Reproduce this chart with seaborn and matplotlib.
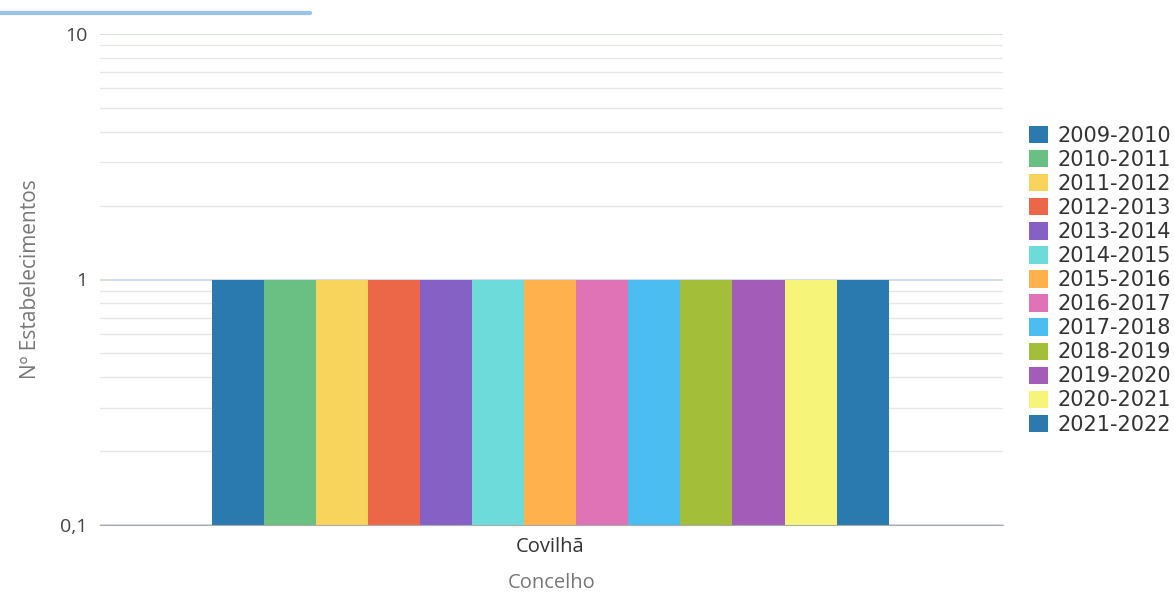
import numpy as np
import pandas as pd
import seaborn as sns
import matplotlib.pyplot as plt
from matplotlib.lines import Line2D
from matplotlib.ticker import FixedLocator, NullFormatter

concelho = ["Covilhã"]
anos = ["2009-2010", "2010-2011", "2011-2012", "2012-2013", "2013-2014",
        "2014-2015", "2015-2016", "2016-2017", "2017-2018", "2018-2019",
        "2019-2020", "2020-2021", "2021-2022"]
valores = [1, 1, 1, 1, 1, 1, 1, 1, 1, 1, 1, 1, 1]
cores = ["#2a7ab0", "#6abf83", "#f9d45c", "#ec6648", "#8561c5", "#6edbdb",
         "#ffb14e", "#e072b6", "#4bbdf0", "#a3bf3a", "#a35db8", "#f6f579",
         "#2a7ab0"]

df = pd.DataFrame({"Concelho": concelho * len(anos), "Ano": anos, "n": valores})

sns.set_style("white")
plt.rcParams['font.family'] = ['Open Sans', 'DejaVu Sans']
fig = plt.figure(figsize=(11.74, 5.94), dpi=100)
ax = fig.add_axes([100 / 1174, 1 - 525 / 594, 903 / 1174, 491 / 594])

sns.barplot(data=df, x="Concelho", y="n", hue="Ano", palette=cores,
            width=0.75, saturation=1, ax=ax, linewidth=0, legend=True)
ax.set_yscale("log")
ax.set_ylim(0.1, 10)
ax.set_xlim(-0.4985, 0.5015)

ax.yaxis.set_major_locator(FixedLocator([0.1, 1, 10]))
ax.set_yticklabels(["0,1", "1", "10"])
minors = [m * d for d in (0.1, 1) for m in range(2, 10)]
ax.yaxis.set_minor_locator(FixedLocator(minors))
ax.yaxis.set_minor_formatter(NullFormatter())
ax.grid(True, which="major", axis="y", color="#ccd6eb", lw=1.2)
ax.grid(True, which="minor", axis="y", color="#e6e6e6", lw=1)
ax.set_axisbelow(True)
ax.tick_params(axis="y", which="major", length=0, labelsize=14, labelcolor="#444444", pad=9)
ax.tick_params(axis="y", which="minor", length=10, color="#e6e6e6", width=1)
ax.tick_params(axis="x", length=0, labelsize=14.5, labelcolor="#333333", pad=9)
for s in ["top", "right", "left"]:
    ax.spines[s].set_visible(False)
ax.spines["bottom"].set_color("#aaaaaa")

ax.set_ylabel("Nº Estabelecimentos", fontsize=15, color="#777777", labelpad=14)
ax.set_xlabel("Concelho", fontsize=14.5, color="#777777", labelpad=11)

leg = ax.legend(loc="upper left", bbox_to_anchor=(1.020, 0.83), frameon=False,
                handlelength=0.9, handleheight=0.9,
                handletextpad=0.45, labelspacing=0.195, borderaxespad=0,
                prop={"family": "DejaVu Sans", "size": 15})
for t in leg.get_texts():
    t.set_color("#333333")

fig.add_artist(Line2D([0, 310 / 1174], [1 - 13 / 594, 1 - 13 / 594],
                      color="#99c2e6", lw=3, transform=fig.transFigure))

fig.savefig("out.png", dpi=100)
